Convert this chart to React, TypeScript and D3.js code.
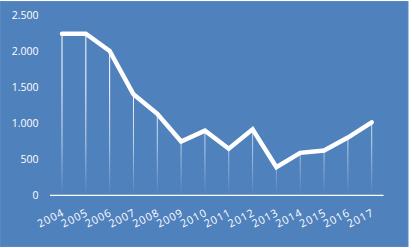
import React from "react";
import * as d3 from "d3";

const years = ["2004","2005","2006","2007","2008","2009","2010","2011","2012","2013","2014","2015","2016","2017"];
const values = [2240, 2240, 2000, 1400, 1130, 745, 895, 645, 915, 390, 588, 620, 800, 1012];
const yTicks = [0, 500, 1000, 1500, 2000, 2500];
const yTickLabels = ["0", "500", "1.000", "1.500", "2.000", "2.500"];

const W = 412, H = 248;

export default function App() {
  const x = d3.scalePoint<string>().domain(years).range([62, 371.7]);
  const y = d3.scaleLinear().domain([0, 2500]).range([195.3, 14.9]);
  const line = d3.line<number>().x((_, i) => x(years[i]) as number).y(d => y(d));
  const font = "'Open Sans', sans-serif";
  return (
    <svg width={W} height={H} style={{ position: "absolute", left: 0, top: 0 }}>
      <defs>
        <linearGradient id="drop" gradientUnits="userSpaceOnUse" x1="0" y1={y(0)} x2="0" y2={y(1500)}>
          <stop offset="0" stopColor="#fff" stopOpacity="0" />
          <stop offset="0.45" stopColor="#fff" stopOpacity="0.6" />
          <stop offset="1" stopColor="#fff" stopOpacity="1" />
        </linearGradient>
      </defs>
      <rect x={0} y={0} width={W} height={H} fill="#fff" />
      <rect x={0.5} y={1.5} width={407.5} height={245} fill="#4F81BD" stroke="#5a88c0" strokeWidth={1} />
      {values.map((v, i) => (
        <rect key={"d" + i} x={(x(years[i]) as number) - 0.5} y={y(v)} width={1} height={y(0) - y(v)} fill="url(#drop)" />
      ))}
      <line x1={50} x2={383.5} y1={y(0)} y2={y(0)} stroke="#fff" strokeWidth={1.2} />
      {yTicks.map((t, i) => (
        <text key={"y" + i} x={38.5} y={y(t)} dy="0.35em" textAnchor="end" fill="#fff" fontFamily={font} fontSize={10.5}>
          {yTickLabels[i]}
        </text>
      ))}
      {years.map((yr) => {
        const px = (x(yr) as number) + 3;
        const py = 215;
        return (
          <text key={"x" + yr} x={px} y={py} textAnchor="end" fill="#fff" fontFamily={font} fontSize={10.8}
            letterSpacing={0.9} transform={`rotate(-27 ${px} ${py})`}>
            {yr}
          </text>
        );
      })}
      <path d={line(values) || ""} fill="none" stroke="#fff" strokeWidth={4.5} strokeLinejoin="miter" strokeLinecap="round" />
    </svg>
  );
}
